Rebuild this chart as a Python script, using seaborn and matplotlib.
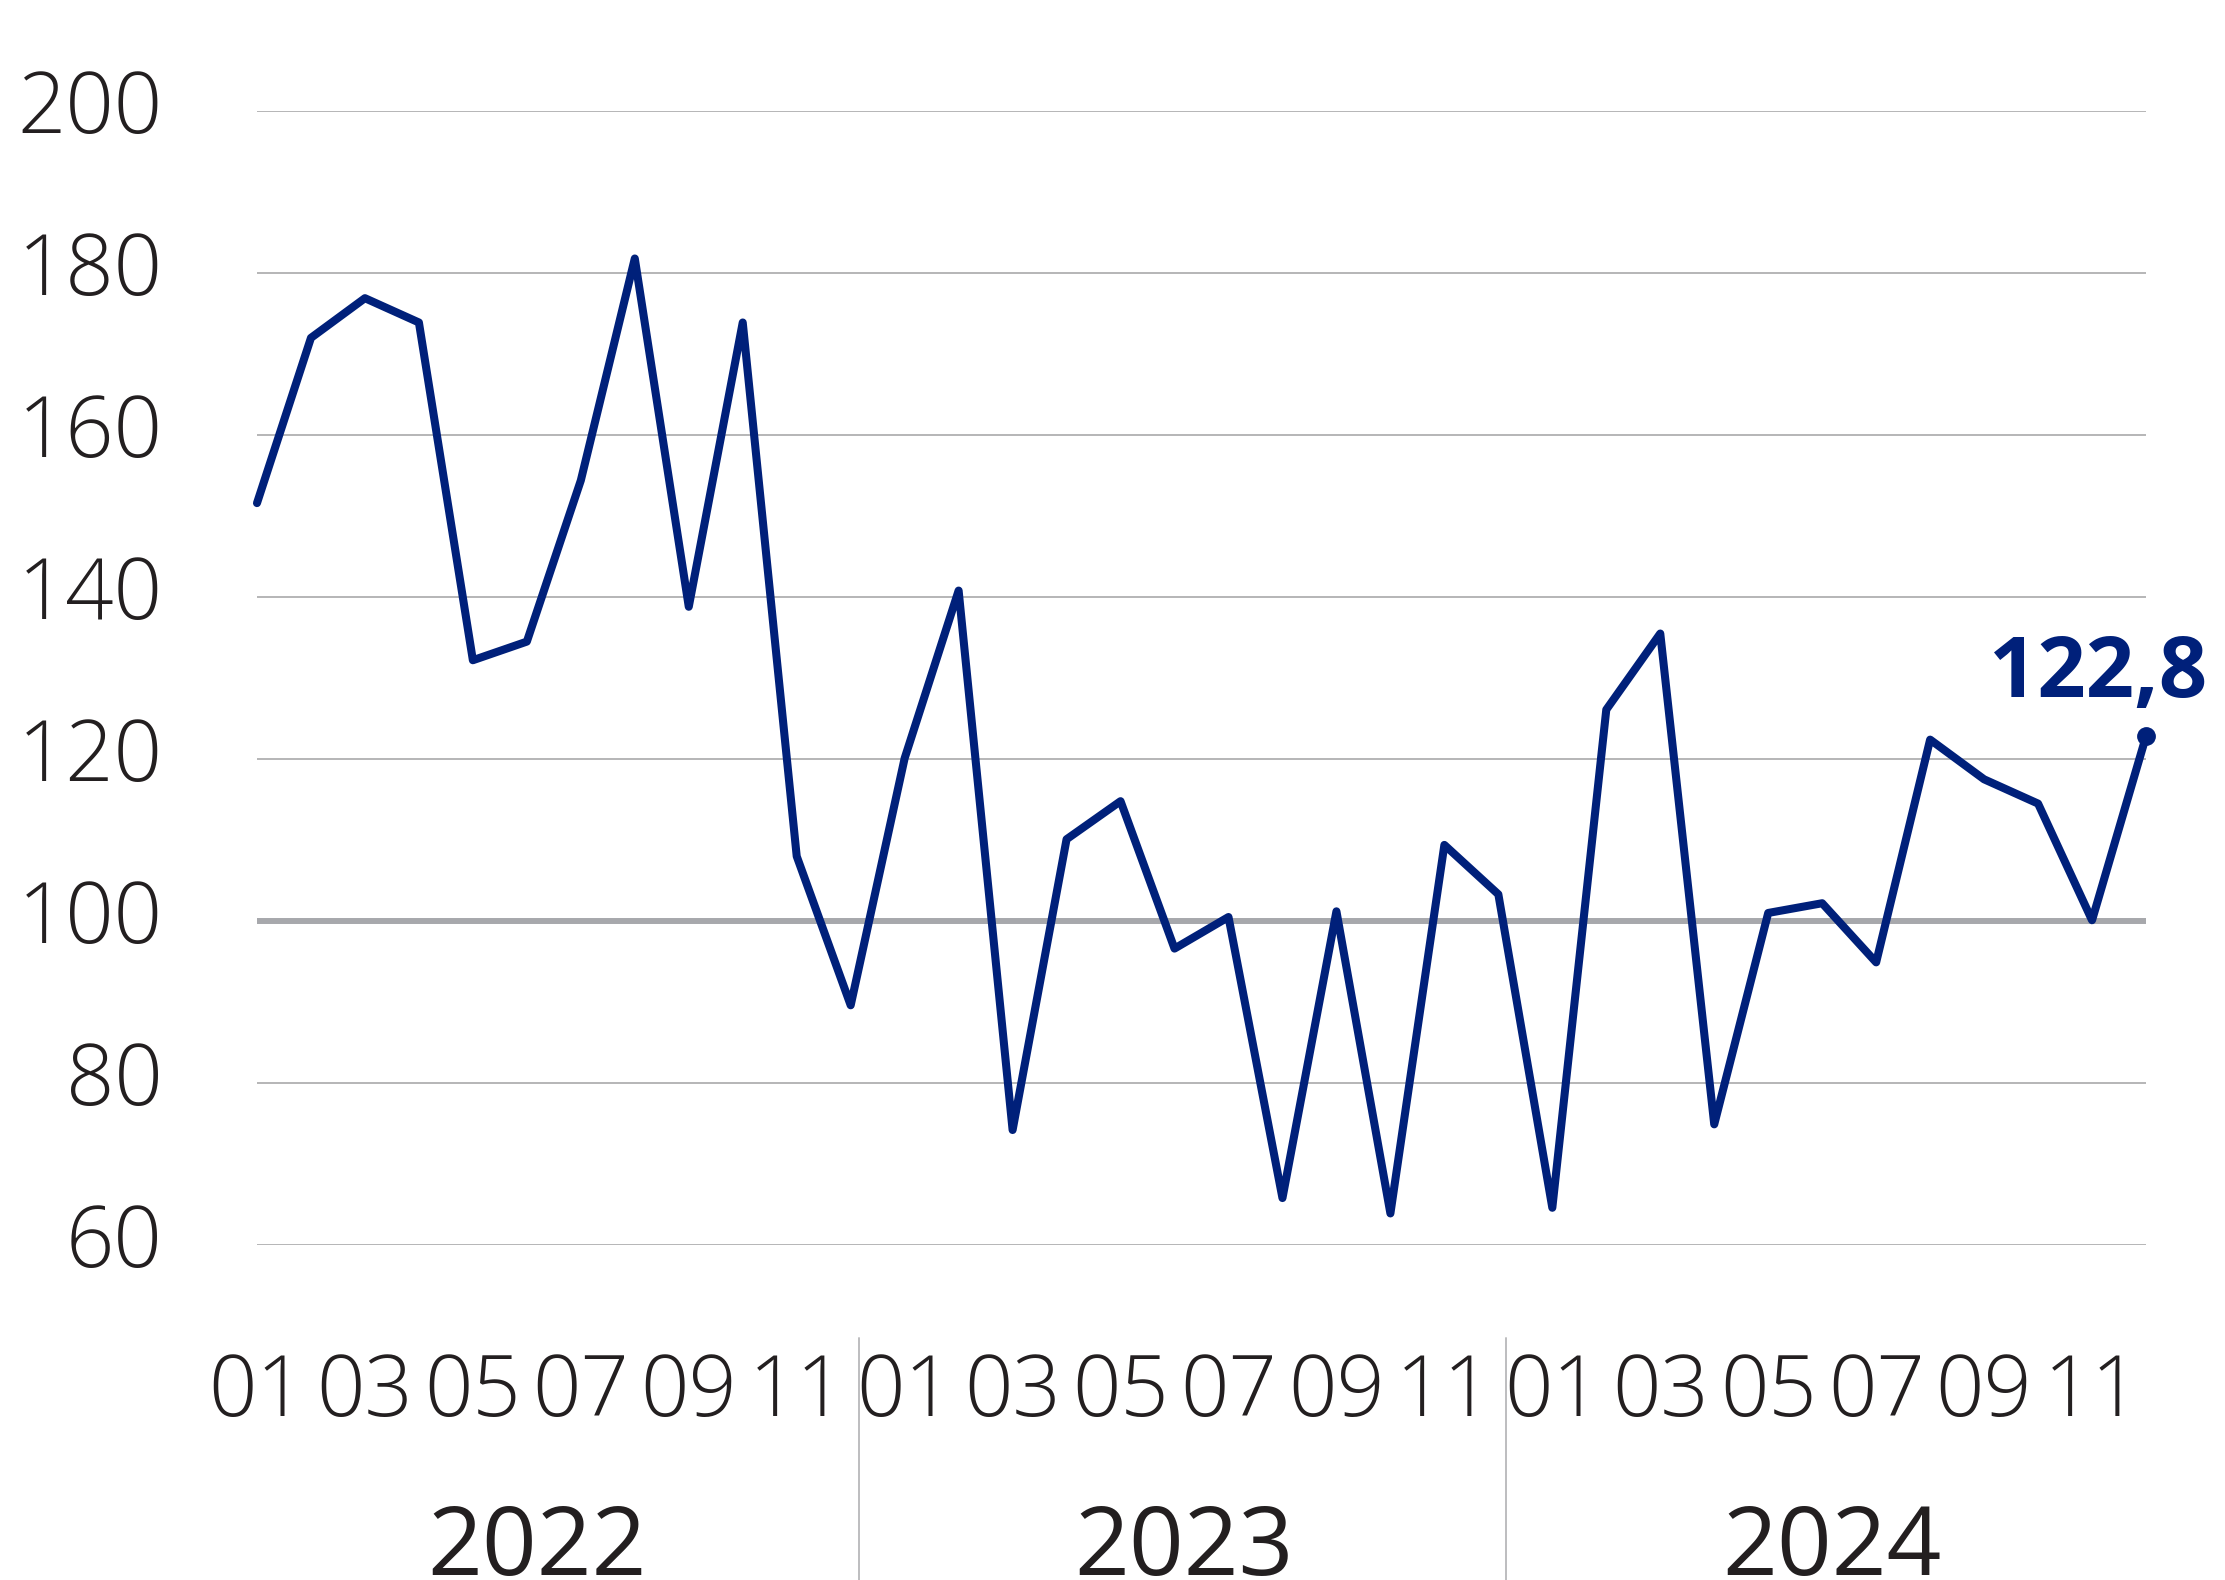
import matplotlib
matplotlib.use("Agg")
import matplotlib.pyplot as plt
import seaborn as sns
import numpy as np
import pandas as pd

# ---- data ----
years = ["2022", "2023", "2024"]
months = ["01", "02", "03", "04", "05", "06", "07", "08", "09", "10", "11", "12"]
values_2022 = [151.6, 172.0, 176.9, 173.9, 132.2, 134.5, 154.4, 181.8, 138.8, 173.9, 108.0, 89.6]
values_2023 = [120.1, 140.8, 74.2, 110.1, 114.8, 96.6, 100.5, 65.8, 101.2, 63.9, 109.4, 103.3]
values_2024 = [64.6, 126.1, 135.5, 74.9, 101.0, 102.2, 94.9, 122.4, 117.5, 114.5, 100.1, 122.8]
last_label = "122,8"
y_ticks = [60, 80, 100, 120, 140, 160, 180, 200]
shown_months = ["01", "03", "05", "07", "09", "11"]

values = values_2022 + values_2023 + values_2024
df = pd.DataFrame({
    "idx": np.arange(len(values)),
    "value": values,
    "year": [y for y in years for _ in months],
    "month": months * len(years),
})

NAVY = "#00207a"
GRID = "#b5b5b7"
TEXT = "#231f20"

sns.set_style("white")
plt.rcParams["font.family"] = ["Open Sans", "DejaVu Sans"]

fig = plt.figure(figsize=(22.25, 15.8), dpi=100)
ax = fig.add_axes([0.1155, 0.2120, 0.9645 - 0.1155, 0.9297 - 0.2120])

# grid lines
for t in y_ticks:
    if t == 100:
        ax.axhline(t, color="#a7a8ac", lw=4.3, zorder=1)
    else:
        ax.axhline(t, color=GRID, lw=1.4, zorder=1)

sns.lineplot(data=df, x="idx", y="value", color=NAVY, ax=ax, linewidth=5.8, zorder=3)
for ln in ax.lines:
    if len(ln.get_xdata()) == len(values):
        ln.set_linewidth(5.8)
        ln.set_solid_joinstyle("round")
        ln.set_solid_capstyle("round")
        ln.set_clip_on(False)

last = df.iloc[-1]
ax.plot([last["idx"]], [last["value"]], "o", color=NAVY, ms=12.5, clip_on=False, zorder=4)
ax.annotate(last_label, (last["idx"], last["value"]), xytext=(44, 28),
            textcoords="offset points", ha="right", va="baseline",
            fontsize=61, fontweight="bold", color=NAVY)

ax.set_xlim(0, len(values) - 1)
ax.set_ylim(60, 200)
ax.set_yticks(y_ticks)
ax.set_yticklabels([str(t) for t in y_ticks], fontsize=61, fontweight=300, color=TEXT)
for lab in ax.get_yticklabels():
    lab.set_va("center")

tick_pos = df.loc[df["month"].isin(shown_months), "idx"].tolist()
tick_lab = df.loc[df["month"].isin(shown_months), "month"].tolist()
ax.set_xticks(tick_pos)
ax.set_xticklabels(tick_lab, fontsize=61, fontweight=300, color=TEXT)
ax.tick_params(axis="y", length=0, pad=68)
ax.tick_params(axis="x", length=0, pad=77)
ax.set_xlabel("")
ax.set_ylabel("")
for s in ax.spines.values():
    s.set_visible(False)

trans = ax.get_xaxis_transform()
for i, y in enumerate(years):
    mid = df.loc[(df["year"] == y) & (df["month"] == "06"), "idx"].iloc[0]
    ax.text(mid + 0.18, -0.291, y, transform=trans, ha="center", va="baseline",
            fontsize=69, color=TEXT, clip_on=False)
    if i > 0:
        sep = df.loc[(df["year"] == y) & (df["month"] == "01"), "idx"].iloc[0] - 0.85
        ax.plot([sep, sep], [-0.082, -0.32], transform=trans, color="#bdbdbf",
                lw=1.4, clip_on=False)

fig.savefig("out.png", dpi=100, facecolor="white")
